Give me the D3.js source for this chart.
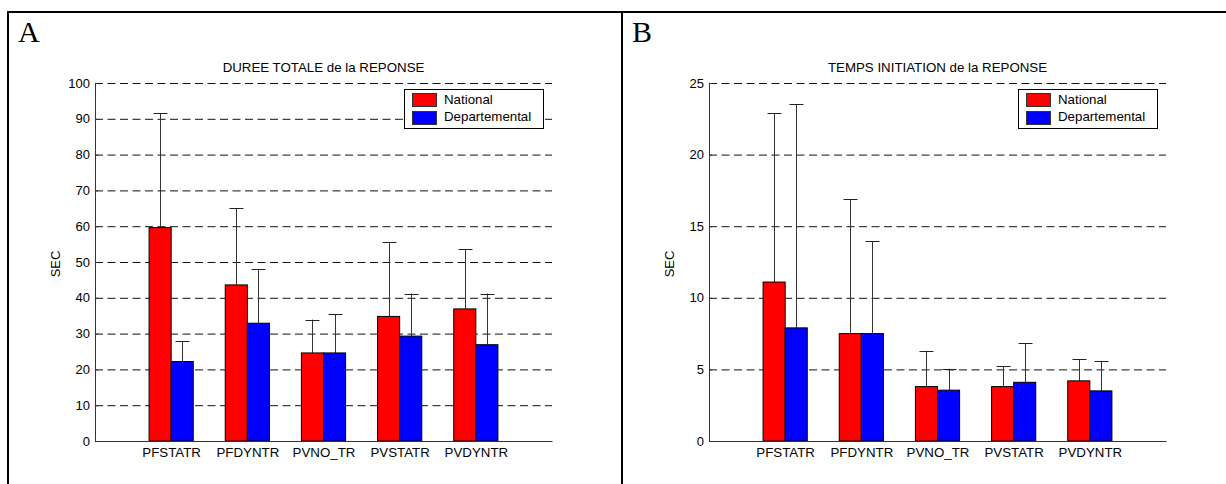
<!DOCTYPE html>
<html><head><meta charset="utf-8">
<script src="https://cdn.jsdelivr.net/npm/d3@7"></script>
<style>
html,body{margin:0;padding:0;background:#fff;}
svg text{font-family:"Liberation Sans",Arial,sans-serif;}
</style></head>
<body><svg id="c" width="1226" height="484"></svg>
<script>
const categories = ["PFSTATR","PFDYNTR","PVNO_TR","PVSTATR","PVDYNTR"];
const seriesNames = ["National","Departemental"];
const seriesColors = ["#ff0000","#0000ff"];

// Panel A: DUREE TOTALE de la REPONSE (sec)
const dureeNational = [59.6, 43.6, 24.6, 34.8, 36.9];
const dureeNationalSD = [31.9, 21.5, 9.3, 20.8, 16.7];
const dureeDept = [22.2, 32.9, 24.6, 29.3, 26.9];
const dureeDeptSD = [5.6, 15.2, 10.8, 11.9, 14.3];
const dureeTicks = [0,10,20,30,40,50,60,70,80,90,100];

// Panel B: TEMPS INITIATION de la REPONSE (sec)
const initNational = [11.1, 7.5, 3.8, 3.8, 4.2];
const initNationalSD = [11.8, 9.4, 2.5, 1.45, 1.5];
const initDept = [7.9, 7.5, 3.55, 4.1, 3.5];
const initDeptSD = [15.6, 6.45, 1.5, 2.75, 2.1];
const initTicks = [0,5,10,15,20,25];

const svg = d3.select("#c");

// outer frame
svg.append("line").attr("x1",8).attr("x2",1226).attr("y1",12).attr("y2",12).attr("stroke","#000").attr("stroke-width",2);
svg.append("line").attr("x1",8).attr("x2",8).attr("y1",11).attr("y2",484).attr("stroke","#000").attr("stroke-width",2);
svg.append("line").attr("x1",622).attr("x2",622).attr("y1",11).attr("y2",484).attr("stroke","#000").attr("stroke-width",2);

function panel(opts){
  const g = svg.append("g");
  const x0 = opts.x0, x1 = opts.x0 + 457, yTop = 83, yBot = 441;
  const x = d3.scaleLinear().domain([0,6]).range([x0,x1]);
  const y = d3.scaleLinear().domain([0,opts.max]).range([yBot,yTop]);

  g.append("text").attr("x",opts.letterX).attr("y",42)
    .style("font-family","'Liberation Serif','Times New Roman',serif").style("font-size","30px").text(opts.letter);

  // grid
  g.selectAll(".grid").data(opts.ticks).enter().append("line")
    .attr("x1",x0).attr("x2",x1).attr("y1",d=>y(d)+0.5).attr("y2",d=>y(d)+0.5)
    .attr("stroke","#111").attr("stroke-width",1).attr("stroke-dasharray","8,4.5");

  // bars
  const bw = 0.29;
  const series = [
    {vals:opts.a, sd:opts.aSD, off:-bw, color:seriesColors[0]},
    {vals:opts.b, sd:opts.bSD, off:0, color:seriesColors[1]}
  ];
  series.forEach(s=>{
    // error bars (upper only)
    s.vals.forEach((v,i)=>{
      const cx = Math.round(x(i+1+s.off+bw/2))+0.5;
      const top = y(v + s.sd[i]);
      g.append("line").attr("x1",cx).attr("x2",cx).attr("y1",y(v)).attr("y2",top).attr("stroke","#333").attr("stroke-width",1);
      g.append("line").attr("x1",cx-7).attr("x2",cx+7).attr("y1",Math.round(top)+0.5).attr("y2",Math.round(top)+0.5).attr("stroke","#222").attr("stroke-width",1);
    });
  });
  series.forEach(s=>{
    g.selectAll(null).data(s.vals).enter().append("rect")
      .attr("x",(d,i)=>x(i+1+s.off)).attr("width",x(bw)-x(0))
      .attr("y",d=>y(d)).attr("height",d=>yBot-y(d))
      .attr("fill",s.color).attr("stroke","#000").attr("stroke-width",1);
  });

  // axes
  const ya = d3.axisLeft(y).tickValues(opts.ticks).tickSizeInner(-3).tickSizeOuter(0).tickPadding(5);
  const yg = g.append("g").attr("transform",`translate(${x0},0)`).call(ya);
  yg.select(".domain").attr("stroke","#333");
  yg.selectAll(".tick line").attr("stroke","#333");
  yg.selectAll("text").style("font-size","13px").attr("fill","#000");

  const xa = d3.axisBottom(x).tickValues([1,2,3,4,5]).tickFormat(d=>categories[d-1]).tickSize(0).tickPadding(7);
  const xg = g.append("g").attr("transform",`translate(0,${yBot})`).call(xa);
  xg.select(".domain").attr("stroke","#333");
  xg.selectAll("text").style("font-size","13.3px").attr("fill","#000");

  // title & label
  g.append("text").attr("x",(x0+x1)/2).attr("y",72).attr("text-anchor","middle").style("font-size","13.3px").text(opts.title);
  g.append("text").attr("transform",`translate(${x0-35},${(yTop+yBot)/2+2}) rotate(-90)`).attr("text-anchor","middle").style("font-size","13px").text("SEC");

  // legend
  const lx = x0 + 309, ly = 89;
  g.append("rect").attr("x",lx+0.5).attr("y",ly+0.5).attr("width",139).attr("height",39).attr("fill","#fff").attr("stroke","#000").attr("stroke-width",1);
  seriesNames.forEach((n,i)=>{
    g.append("rect").attr("x",lx+8.5).attr("y",ly+4.5+i*18).attr("width",24).attr("height",13).attr("fill",seriesColors[i]).attr("stroke","#333");
    g.append("text").attr("x",lx+40).attr("y",ly+15+i*17).style("font-size","13.3px").text(n);
  });
}

panel({x0:95, max:100, ticks:dureeTicks, a:dureeNational, aSD:dureeNationalSD, b:dureeDept, bSD:dureeDeptSD,
  title:"DUREE TOTALE de la REPONSE", letter:"A", letterX:18});
panel({x0:709, max:25, ticks:initTicks, a:initNational, aSD:initNationalSD, b:initDept, bSD:initDeptSD,
  title:"TEMPS INITIATION de la REPONSE", letter:"B", letterX:632});
</script></body></html>
